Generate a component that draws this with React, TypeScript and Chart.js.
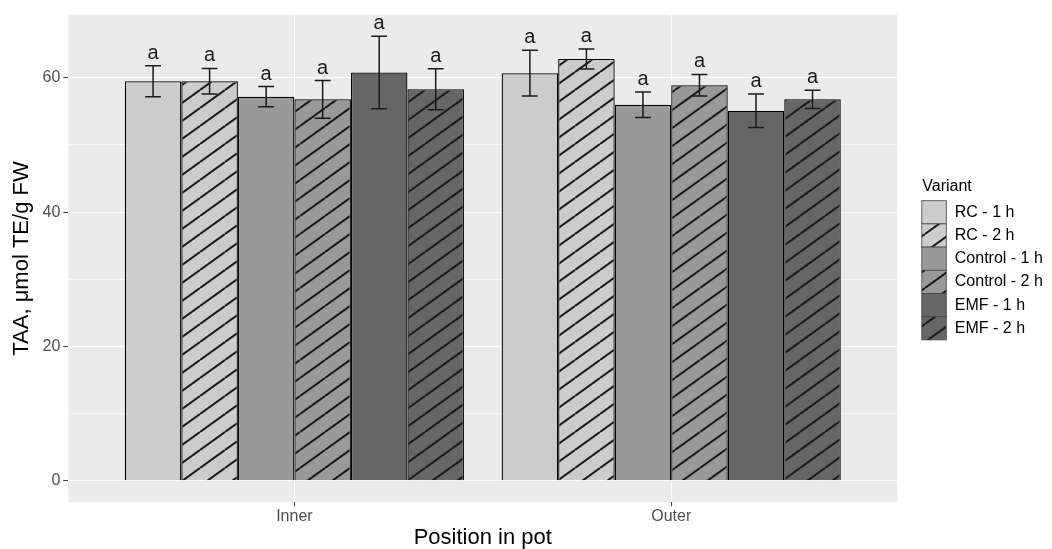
import React, { useEffect, useRef } from 'react';
import { Chart, registerables } from 'chart.js';

Chart.register(...registerables);

// ---- data ----
const categories = ['Inner', 'Outer'];
const variants = ['RC - 1 h', 'RC - 2 h', 'Control - 1 h', 'Control - 2 h', 'EMF - 1 h', 'EMF - 2 h'];

const rc1h = [59.5, 60.7];
const rc2h = [59.5, 62.8];
const control1h = [57.2, 56.0];
const control2h = [56.8, 58.9];
const emf1h = [60.8, 55.1];
const emf2h = [58.3, 56.8];

const rc1hErr = [2.3, 3.4];
const rc2hErr = [1.9, 1.5];
const control1hErr = [1.5, 1.9];
const control2hErr = [2.8, 1.6];
const emf1hErr = [5.4, 2.5];
const emf2hErr = [3.05, 1.35];

const rc1hLetters = ['a', 'a'];
const rc2hLetters = ['a', 'a'];
const control1hLetters = ['a', 'a'];
const control2hLetters = ['a', 'a'];
const emf1hLetters = ['a', 'a'];
const emf2hLetters = ['a', 'a'];

const yTicks = [0, 10, 20, 30, 40, 50, 60];
const yLabelledTicks = [0, 20, 40, 60];

const seriesValues = [rc1h, rc2h, control1h, control2h, emf1h, emf2h];
const seriesErrors = [rc1hErr, rc2hErr, control1hErr, control2hErr, emf1hErr, emf2hErr];
const seriesLetters = [rc1hLetters, rc2hLetters, control1hLetters, control2hLetters, emf1hLetters, emf2hLetters];

// ---- styles ----
const variantFills = ['#cccccc', '#cccccc', '#999999', '#999999', '#666666', '#666666'];
const variantHatched = [false, true, false, true, false, true];
const FONT = "'Liberation Sans', Arial, sans-serif";

function makeHatch(ctx: CanvasRenderingContext2D, bg: string): CanvasPattern | string {
  const W = 25;
  const H = 18;
  const c = document.createElement('canvas');
  c.width = W;
  c.height = H;
  const g = c.getContext('2d');
  if (!g) return bg;
  g.fillStyle = bg;
  g.fillRect(0, 0, W, H);
  g.strokeStyle = '#1a1a1a';
  g.lineWidth = 2;
  for (const k of [-1, 0, 1]) {
    g.beginPath();
    g.moveTo(0, H + k * H);
    g.lineTo(W, k * H);
    g.stroke();
  }
  return ctx.createPattern(c, 'repeat') || bg;
}

const panelBg = {
  id: 'panelBg',
  beforeDraw(chart: any) {
    const { ctx, chartArea: a } = chart;
    ctx.save();
    ctx.fillStyle = '#ebebeb';
    ctx.fillRect(a.left, a.top, a.right - a.left, a.bottom - a.top);
    ctx.restore();
  },
};

const errorBars = {
  id: 'errorBars',
  afterDatasetsDraw(chart: any) {
    const { ctx } = chart;
    const yScale = chart.scales.y;
    ctx.save();
    chart.data.datasets.forEach((ds: any, i: number) => {
      const meta = chart.getDatasetMeta(i);
      meta.data.forEach((el: any, j: number) => {
        const mean = seriesValues[i][j];
        const err = seriesErrors[i][j];
        const yTop = yScale.getPixelForValue(mean + err);
        const yBot = yScale.getPixelForValue(mean - err);
        const x = el.x;
        const half = el.width * 0.14;
        ctx.strokeStyle = '#1a1a1a';
        ctx.lineWidth = 1.5;
        ctx.beginPath();
        ctx.moveTo(x, yTop);
        ctx.lineTo(x, yBot);
        ctx.moveTo(x - half, yTop);
        ctx.lineTo(x + half, yTop);
        ctx.moveTo(x - half, yBot);
        ctx.lineTo(x + half, yBot);
        ctx.stroke();
        ctx.fillStyle = '#1a1a1a';
        ctx.font = `20px ${FONT}`;
        ctx.textAlign = 'center';
        ctx.textBaseline = 'alphabetic';
        ctx.fillText(seriesLetters[i][j], x, yTop - 7);
      });
    });
    ctx.restore();
  },
};

const customLegend = {
  id: 'customLegend',
  afterDraw(chart: any) {
    const { ctx, chartArea: a } = chart;
    const x0 = a.right + 24.5;
    const keyW = 24.5;
    const keyH = 23.2;
    const keysTop = (a.top + a.bottom) / 2 - 57.8;
    ctx.save();
    ctx.fillStyle = '#000';
    ctx.font = `16px ${FONT}`;
    ctx.textAlign = 'left';
    ctx.textBaseline = 'middle';
    ctx.fillText('Variant', x0 + 0.5, keysTop - 14.5);
    chart.data.datasets.forEach((ds: any, i: number) => {
      const y = keysTop + i * keyH;
      ctx.fillStyle = ds.backgroundColor;
      ctx.fillRect(x0, y, keyW, keyH);
      ctx.strokeStyle = '#444';
      ctx.lineWidth = 0.8;
      ctx.strokeRect(x0, y, keyW, keyH);
      ctx.fillStyle = '#000';
      ctx.fillText(ds.label, x0 + keyW + 8.5, y + keyH / 2);
    });
    ctx.restore();
  },
};

export default function App() {
  const ref = useRef<HTMLCanvasElement>(null);

  useEffect(() => {
    const canvas = ref.current;
    if (!canvas) return;
    const ctx = canvas.getContext('2d');
    if (!ctx) return;

    const datasets = variants.map((label, i) => ({
      label,
      data: categories.map((_, j) => ({ x: j + 1, y: seriesValues[i][j] })),
      backgroundColor: variantHatched[i] ? makeHatch(ctx, variantFills[i]) : variantFills[i],
      borderColor: '#000',
      borderWidth: 1.3,
      categoryPercentage: 0.9,
      barPercentage: 1,
    }));

    const chart = new Chart(canvas, {
      type: 'bar',
      data: { datasets } as any,
      plugins: [panelBg, errorBars, customLegend],
      options: {
        animation: false,
        responsive: true,
        maintainAspectRatio: false,
        layout: { padding: { top: 14.7, right: 154.7, bottom: 0, left: 0 } },
        plugins: {
          legend: { display: false },
          tooltip: { enabled: false },
        },
        scales: {
          x: {
            type: 'linear',
            offset: false,
            min: 0.4,
            max: 2.6,
            afterBuildTicks: (scale: any) => {
              scale.ticks = categories.map((_, j) => ({ value: j + 1 }));
            },
            afterFit: (scale: any) => {
              scale.height = 46.7;
            },
            ticks: {
              callback: (v: any) => categories[Number(v) - 1] ?? '',
              color: '#4d4d4d',
              font: { family: FONT, size: 16 },
              padding: 1,
              maxRotation: 0,
              autoSkip: false,
            },
            grid: {
              offset: false,
              color: '#ffffff',
              lineWidth: 1.1,
              drawTicks: true,
              tickLength: 4,
              tickColor: '#333333',
              tickWidth: 1,
            },
            border: { display: false },
            title: {
              display: true,
              text: 'Position in pot',
              color: '#000',
              font: { family: FONT, size: 22, lineHeight: 1 },
              padding: { top: 0, bottom: 0 },
            },
          },
          y: {
            type: 'linear',
            min: -3.2,
            max: 69.4,
            afterBuildTicks: (scale: any) => {
              scale.ticks = yTicks.map((v) => ({ value: v }));
            },
            afterFit: (scale: any) => {
              scale.width = 68.3;
            },
            ticks: {
              callback: (v: any) => (yLabelledTicks.includes(Number(v)) ? String(v) : ''),
              color: '#4d4d4d',
              font: { family: FONT, size: 16 },
              padding: 3,
              autoSkip: false,
            },
            grid: {
              color: '#ffffff',
              lineWidth: (c: any) => (c.tick && yLabelledTicks.includes(c.tick.value) ? 1.1 : 0.55),
              drawTicks: true,
              tickLength: 5,
              tickColor: (c: any) => (c.tick && yLabelledTicks.includes(c.tick.value) ? '#333333' : 'rgba(0,0,0,0)'),
              tickWidth: 1,
            },
            border: { display: false },
            title: {
              display: true,
              text: 'TAA, μmol TE/g FW',
              color: '#000',
              font: { family: FONT, size: 22, lineHeight: 1 },
              padding: { top: 10.5, bottom: 0 },
            },
          },
        },
      } as any,
    });

    return () => chart.destroy();
  }, []);

  return (
    <div style={{ position: 'fixed', left: 0, top: 0, width: 1052, height: 549, background: '#fff' }}>
      <canvas ref={ref} />
    </div>
  );
}
